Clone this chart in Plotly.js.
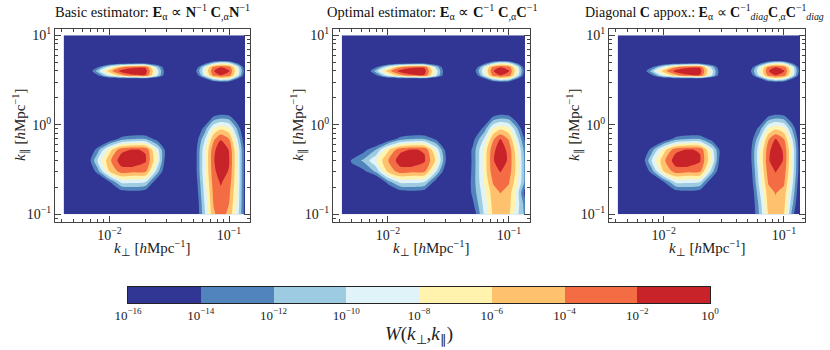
<!DOCTYPE html>
<html>
<head>
<meta charset="utf-8">
<script src="https://cdn.plot.ly/plotly-3.0.1.min.js"></script>
<style>
  body { margin: 0; background: white; }
  #chart { width: 830px; height: 350px; }
</style>
</head>
<body>
<div id="chart"></div>
<script>
// grid of k_perp and k_par (h/Mpc), log-spaced by eye
var kPerp = [0.00414, 0.00501, 0.00631, 0.00794, 0.0100, 0.0126, 0.0158, 0.0200, 0.0251,
             0.0316, 0.0398, 0.0501, 0.0631, 0.0741, 0.0851, 0.100, 0.1175, 0.136];
var kPar = [0.100, 0.132, 0.174, 0.229, 0.302, 0.398, 0.525, 0.692, 0.912, 1.202, 1.585,
            2.239, 2.884, 3.236, 3.548, 3.981, 4.416, 4.898, 5.370, 7.079, 10.0];

// log10 W(k_perp, k_par), one row per kPar value
var zBasic = [
  [-18,-18,-18,-18,-18,-18,-18,-18,-18,-18,-18,-18,-10,-4.3,-3.2,-4.5,-9,-15],
  [-18,-18,-18,-18,-18,-18,-18,-18,-18,-18,-18,-18,-9.5,-3.9,-2.8,-4,-8.5,-15],
  [-18,-18,-18,-18,-18,-15.5,-15,-15.5,-18,-18,-18,-17.5,-9,-3.5,-2.4,-3.5,-8.3,-15],
  [-18,-18,-18,-18,-14.3,-9.5,-9.5,-10,-16,-18,-18,-17,-8.5,-3,-1.8,-2.8,-8,-15],
  [-18,-18,-18,-13,-6,-3,-3.5,-3.5,-11,-18,-18,-16.5,-8,-2.6,-0.8,-2.2,-8,-15],
  [-18,-18,-17,-10,-4.5,-0.8,0,-1.7,-8,-18,-18,-16.5,-8,-2.3,0,-1.8,-8,-15],
  [-18,-18,-18,-13,-7,-2.6,-1.8,-2.2,-9,-17,-18,-16.5,-8.2,-2.6,-0.5,-2.1,-8.2,-15],
  [-18,-18,-18,-18,-16,-13,-12,-12,-15,-18,-18,-17,-10,-4.5,-2.2,-4,-10,-16],
  [-18,-18,-18,-18,-18,-18,-18,-18,-18,-18,-18,-18,-13,-8,-6.5,-7.5,-12.5,-17],
  [-18,-18,-18,-18,-18,-18,-18,-18,-18,-18,-18,-18,-17,-13.5,-12.5,-13,-16,-18],
  [-18,-18,-18,-18,-18,-18,-18,-18,-18,-18,-18,-18,-18,-18,-18,-18,-18,-18],
  [-18,-18,-18,-18,-18,-18,-18,-18,-18,-18,-18,-18,-18,-18,-18,-18,-18,-18],
  [-18,-18,-18,-18,-18,-18,-18,-18,-18,-18,-18,-18,-18,-18,-18,-18,-18,-18],
  [-18,-18,-18,-18,-17,-17,-17,-17,-18,-18,-18,-18,-15,-10,-8,-9,-14.5,-18],
  [-18,-18,-18,-14.5,-9,-5,-2.6,-2.2,-10,-18,-18,-18,-9,-3.5,-2.1,-3,-9,-16],
  [-18,-18,-18,-11,-5,-1,0,-1,-9,-18,-18,-16,-8,-2.2,0,-1.8,-8,-15],
  [-18,-18,-18,-14.5,-9,-4.5,-2.6,-2.3,-11,-18,-18,-18,-9,-3.5,-2.1,-3,-9,-16],
  [-18,-18,-18,-18,-17,-16,-15.5,-15.5,-17,-18,-18,-18,-15,-11,-9,-10,-14.5,-18],
  [-18,-18,-18,-18,-18,-18,-18,-18,-18,-18,-18,-18,-18,-18,-18,-18,-18,-18],
  [-18,-18,-18,-18,-18,-18,-18,-18,-18,-18,-18,-18,-18,-18,-18,-18,-18,-18],
  [-18,-18,-18,-18,-18,-18,-18,-18,-18,-18,-18,-18,-18,-18,-18,-18,-18,-18]
];

var zOptimal = [
  [-18,-18,-18,-18,-18,-18,-18,-18,-18,-18,-18,-16,-9.5,-5.6,-4.9,-5.6,-9.5,-12.5],
  [-18,-18,-18,-18,-18,-18,-18,-18,-18,-18,-18,-14.5,-9,-5.2,-4.5,-5.2,-9,-13],
  [-18,-18,-18,-18,-18,-15.5,-15,-15.5,-18,-18,-18,-13.5,-8.5,-4.8,-3.95,-4.8,-9,-15],
  [-18,-18,-18,-18,-13,-9.5,-9.5,-10,-15.5,-18,-18,-13.3,-7.5,-3.8,-3,-3.8,-7.5,-12.5],
  [-18,-15,-14.5,-11.5,-5.5,-3,-3.5,-3.5,-10,-17.5,-18,-13.5,-7,-2.7,-1.9,-2.9,-7,-12.5],
  [-17,-13.7,-11.5,-8.2,-4.1,-0.8,0,-1.7,-6.5,-16,-18,-13.6,-7,-2.3,0,-2.6,-7,-12.5],
  [-18,-16.5,-14.8,-12,-6.5,-2.6,-1.8,-2.2,-8.5,-16.5,-18,-13.6,-7.2,-2.6,-0.7,-2.7,-7.5,-13],
  [-18,-18,-18,-18,-16,-13,-12,-12,-14.5,-18,-18,-15,-9.5,-4.3,-1.95,-4.2,-9.5,-14.5],
  [-18,-18,-18,-18,-18,-18,-18,-18,-18,-18,-18,-18,-13,-8,-6.5,-7.5,-12,-16.5],
  [-18,-18,-18,-18,-18,-18,-18,-18,-18,-18,-18,-18,-17,-13.5,-12.5,-13,-16,-18],
  [-18,-18,-18,-18,-18,-18,-18,-18,-18,-18,-18,-18,-18,-18,-18,-18,-18,-18],
  [-18,-18,-18,-18,-18,-18,-18,-18,-18,-18,-18,-18,-18,-18,-18,-18,-18,-18],
  [-18,-18,-18,-18,-18,-18,-18,-18,-18,-18,-18,-18,-18,-18,-18,-18,-18,-18],
  [-18,-18,-18,-18,-17,-17,-17,-17,-18,-18,-18,-18,-15,-10,-8,-9,-14.5,-18],
  [-18,-18,-18,-14.5,-9,-5,-2.6,-2.2,-10,-18,-18,-18,-9,-3.5,-2.1,-3,-9,-16],
  [-18,-18,-18,-11,-5,-1,0,-1,-9,-18,-18,-16,-8,-2.2,0,-1.8,-8,-15],
  [-18,-18,-18,-14.5,-9,-4.5,-2.6,-2.3,-11,-18,-18,-18,-9,-3.5,-2.1,-3,-9,-16],
  [-18,-18,-18,-18,-17,-16,-15.5,-15.5,-17,-18,-18,-18,-15,-11,-9,-10,-14.5,-18],
  [-18,-18,-18,-18,-18,-18,-18,-18,-18,-18,-18,-18,-18,-18,-18,-18,-18,-18],
  [-18,-18,-18,-18,-18,-18,-18,-18,-18,-18,-18,-18,-18,-18,-18,-18,-18,-18],
  [-18,-18,-18,-18,-18,-18,-18,-18,-18,-18,-18,-18,-18,-18,-18,-18,-18,-18]
];

var zDiag = [
  [-18,-18,-18,-18,-18,-18,-18,-18,-18,-18,-18,-18,-11.5,-5.8,-4.8,-5.8,-13,-18],
  [-18,-18,-18,-18,-18,-18,-18,-18,-18,-18,-18,-18,-11,-5.2,-4.3,-5.3,-11.5,-17],
  [-18,-18,-18,-18,-18,-15.5,-15,-15.5,-18,-18,-18,-18,-10,-4.8,-3.9,-4.8,-10.5,-16.5],
  [-18,-18,-18,-18,-14.3,-9.5,-9.5,-10,-16,-18,-18,-17.5,-9,-3.8,-2.7,-3.6,-9.5,-16],
  [-18,-18,-18,-13,-6,-3,-3.5,-3.5,-11,-18,-18,-17,-8.5,-3,-1.9,-2.8,-8.8,-15.5],
  [-18,-18,-17,-10,-4.5,-0.8,0,-1.7,-8,-18,-18,-16.5,-8,-2.4,0,-2.3,-8.5,-15.5],
  [-18,-18,-18,-13,-7,-2.6,-1.8,-2.2,-9,-17,-18,-16.5,-8.2,-2.7,-0.5,-2.4,-8.5,-15.5],
  [-18,-18,-18,-18,-16,-13,-12,-12,-15,-18,-18,-17,-10,-4.3,-1.9,-4,-10,-16],
  [-18,-18,-18,-18,-18,-18,-18,-18,-18,-18,-18,-18,-13,-8,-6.5,-7.5,-12.5,-17],
  [-18,-18,-18,-18,-18,-18,-18,-18,-18,-18,-18,-18,-17,-13.5,-12.5,-13,-16,-18],
  [-18,-18,-18,-18,-18,-18,-18,-18,-18,-18,-18,-18,-18,-18,-18,-18,-18,-18],
  [-18,-18,-18,-18,-18,-18,-18,-18,-18,-18,-18,-18,-18,-18,-18,-18,-18,-18],
  [-18,-18,-18,-18,-18,-18,-18,-18,-18,-18,-18,-18,-18,-18,-18,-18,-18,-18],
  [-18,-18,-18,-18,-17,-17,-17,-17,-18,-18,-18,-18,-15,-10,-8,-9,-14.5,-18],
  [-18,-18,-18,-14.5,-9,-5,-2.6,-2.2,-10,-18,-18,-18,-9,-3.5,-2.1,-3,-9,-16],
  [-18,-18,-18,-11,-5,-1,0,-1,-9,-18,-18,-16,-8,-2.2,0,-1.8,-8,-15],
  [-18,-18,-18,-14.5,-9,-4.5,-2.6,-2.3,-11,-18,-18,-18,-9,-3.5,-2.1,-3,-9,-16],
  [-18,-18,-18,-18,-17,-16,-15.5,-15.5,-17,-18,-18,-18,-15,-11,-9,-10,-14.5,-18],
  [-18,-18,-18,-18,-18,-18,-18,-18,-18,-18,-18,-18,-18,-18,-18,-18,-18,-18],
  [-18,-18,-18,-18,-18,-18,-18,-18,-18,-18,-18,-18,-18,-18,-18,-18,-18,-18],
  [-18,-18,-18,-18,-18,-18,-18,-18,-18,-18,-18,-18,-18,-18,-18,-18,-18,-18]
];

var panelTitles = [
  "Basic estimator: <b>E</b><sub>α</sub> ∝ <b>N</b><sup>−1</sup> <b>C</b><sub>,α</sub><b>N</b><sup>−1</sup>",
  "Optimal estimator: <b>E</b><sub>α</sub> ∝ <b>C</b><sup>−1</sup> <b>C</b><sub>,α</sub><b>C</b><sup>−1</sup>",
  "Diagonal <b>C</b> appox.: <b>E</b><sub>α</sub> ∝ <b>C</b><sup>−1</sup><sub><i>diag</i></sub><b>C</b><sub>,α</sub><b>C</b><sup>−1</sup><sub><i>diag</i></sub>"
];

var xTickVals = [0.01, 0.1];
var xTickText = ["10<sup>−2</sup>", "10<sup>−1</sup>"];
var yTickVals = [0.1, 1, 10];
var yTickText = ["10<sup>−1</sup>", "10<sup>0</sup>", "10<sup>1</sup>"];

// colour bands, log10 W edges
var bandEdges = [-16, -14, -12, -10, -8, -6, -4, -2, 0];
var bandColors = ["#313695", "#5184bc", "#9dcbe1", "#e0f3f8", "#fff3ad", "#fec16e", "#f46c43", "#c9232a"];
var bandLabels = ["10<sup>−16</sup>", "10<sup>−14</sup>", "10<sup>−12</sup>", "10<sup>−10</sup>",
                  "10<sup>−8</sup>", "10<sup>−6</sup>", "10<sup>−4</sup>", "10<sup>−2</sup>", "10<sup>0</sup>"];

var serif = "Liberation Serif, Times New Roman, serif";

// contour fill colours: one stop per band
var contourScale = bandColors.map(function (c, i) { return [i / (bandColors.length - 1), c]; });

function makeContour(z, n) {
    return {
        type: "contour",
        x: kPerp,
        y: kPar,
        z: z,
        xaxis: n == 1 ? "x" : "x" + n,
        yaxis: n == 1 ? "y" : "y" + n,
        colorscale: contourScale,
        showscale: false,
        contours: { start: -14, end: -2, size: 2, coloring: "fill", showlines: false },
        line: { width: 0, smoothing: 0.7 },
        hoverinfo: "skip"
    };
}

// colorbar drawn as a one-row heatmap
var cbCenters = [], cbZ = [], cbScale = [];
for (var i = 0; i < bandColors.length; i++) {
    cbCenters.push((bandEdges[i] + bandEdges[i + 1]) / 2);
    cbZ.push(i);
    cbScale.push([i / bandColors.length, bandColors[i]]);
    cbScale.push([(i + 1) / bandColors.length, bandColors[i]]);
}
var cbTrace = {
    type: "heatmap",
    x: cbCenters,
    y: [0],
    z: [cbZ],
    zmin: -0.5,
    zmax: bandColors.length - 0.5,
    colorscale: cbScale,
    showscale: false,
    xaxis: "x4",
    yaxis: "y4",
    hoverinfo: "skip"
};

function xAxis(dom, n) {
    return {
        type: "log",
        domain: dom,
        range: [-2.455, -0.825],
        anchor: n == 1 ? "y" : "y" + n,
        tickvals: xTickVals,
        ticktext: xTickText,
        ticks: "inside",
        ticklen: 6,
        tickcolor: "#444",
        minor: { ticks: "inside", ticklen: 3, tickcolor: "#444", dtick: "D1" },
        showline: true,
        linecolor: "#444",
        mirror: "allticks",
        showgrid: false,
        zeroline: false,
        tickfont: { family: serif, size: 14, color: "#222" }
    };
}

function yAxis(n) {
    return {
        type: "log",
        domain: [0.366, 0.916],
        range: [-1.085, 1.065],
        anchor: n == 1 ? "x" : "x" + n,
        tickvals: yTickVals,
        ticktext: yTickText,
        ticks: "inside",
        ticklen: 6,
        tickcolor: "#444",
        minor: { ticks: "inside", ticklen: 3, tickcolor: "#444", dtick: "D1" },
        showline: true,
        linecolor: "#444",
        mirror: "allticks",
        showgrid: false,
        zeroline: false,
        tickfont: { family: serif, size: 14, color: "#222" }
    };
}

var xDomains = [[55 / 830, 250 / 830], [333 / 830, 530 / 830], [609 / 830, 805 / 830]];

var annotations = [];
panelTitles.forEach(function (t, i) {
    var mid = (xDomains[i][0] + xDomains[i][1]) / 2;
    var last = i == panelTitles.length - 1;
    annotations.push({
        text: t, xref: "paper", yref: "paper",
        x: last ? 826 / 830 : mid, y: 1 - 12 / 350,
        xanchor: last ? "right" : "center", yanchor: "middle", showarrow: false,
        font: { family: serif, size: last ? 14 : 14.5, color: "#111" }
    });
    annotations.push({
        text: "<i>k</i><sub>⊥</sub> [<i>h</i>Mpc<sup>−1</sup>]", xref: "paper", yref: "paper",
        x: mid, y: 1 - 248 / 350, xanchor: "center", yanchor: "middle", showarrow: false,
        font: { family: serif, size: 15, color: "#222" }
    });
    annotations.push({
        text: "<i>k</i><sub>∥</sub> [<i>h</i>Mpc<sup>−1</sup>]", xref: "paper", yref: "paper",
        x: xDomains[i][0] - 35 / 830, y: 1 - 125 / 350, xanchor: "center", yanchor: "middle",
        textangle: -90, showarrow: false,
        font: { family: serif, size: 15, color: "#222" }
    });
});

var layout = {
    width: 830,
    height: 350,
    margin: { l: 0, r: 0, t: 0, b: 0 },
    paper_bgcolor: "white",
    plot_bgcolor: "white",
    showlegend: false,
    xaxis: xAxis(xDomains[0], 1),
    yaxis: yAxis(1),
    xaxis2: xAxis(xDomains[1], 2),
    yaxis2: yAxis(2),
    xaxis3: xAxis(xDomains[2], 3),
    yaxis3: yAxis(3),
    xaxis4: {
        domain: [128 / 830, 710 / 830],
        range: [-16, 0],
        anchor: "y4",
        tickvals: bandEdges,
        ticktext: bandLabels,
        ticks: "",
        showline: true,
        linecolor: "#222",
        mirror: true,
        showgrid: false,
        zeroline: false,
        tickfont: { family: serif, size: 13, color: "#222" },
        title: { text: "<i>W</i>(<i>k</i><sub>⊥</sub>,<i>k</i><sub>∥</sub>)", font: { family: serif, size: 19, color: "#222" }, standoff: 2 }
    },
    yaxis4: {
        domain: [1 - 303 / 350, 1 - 287 / 350],
        range: [-0.5, 0.5],
        anchor: "x4",
        showticklabels: false,
        ticks: "",
        showline: true,
        linecolor: "#222",
        mirror: true,
        showgrid: false,
        zeroline: false
    },
    annotations: annotations
};

var data = [makeContour(zBasic, 1), makeContour(zOptimal, 2), makeContour(zDiag, 3), cbTrace];

Plotly.newPlot("chart", data, layout, { displayModeBar: false, staticPlot: true });
</script>
</body>
</html>
